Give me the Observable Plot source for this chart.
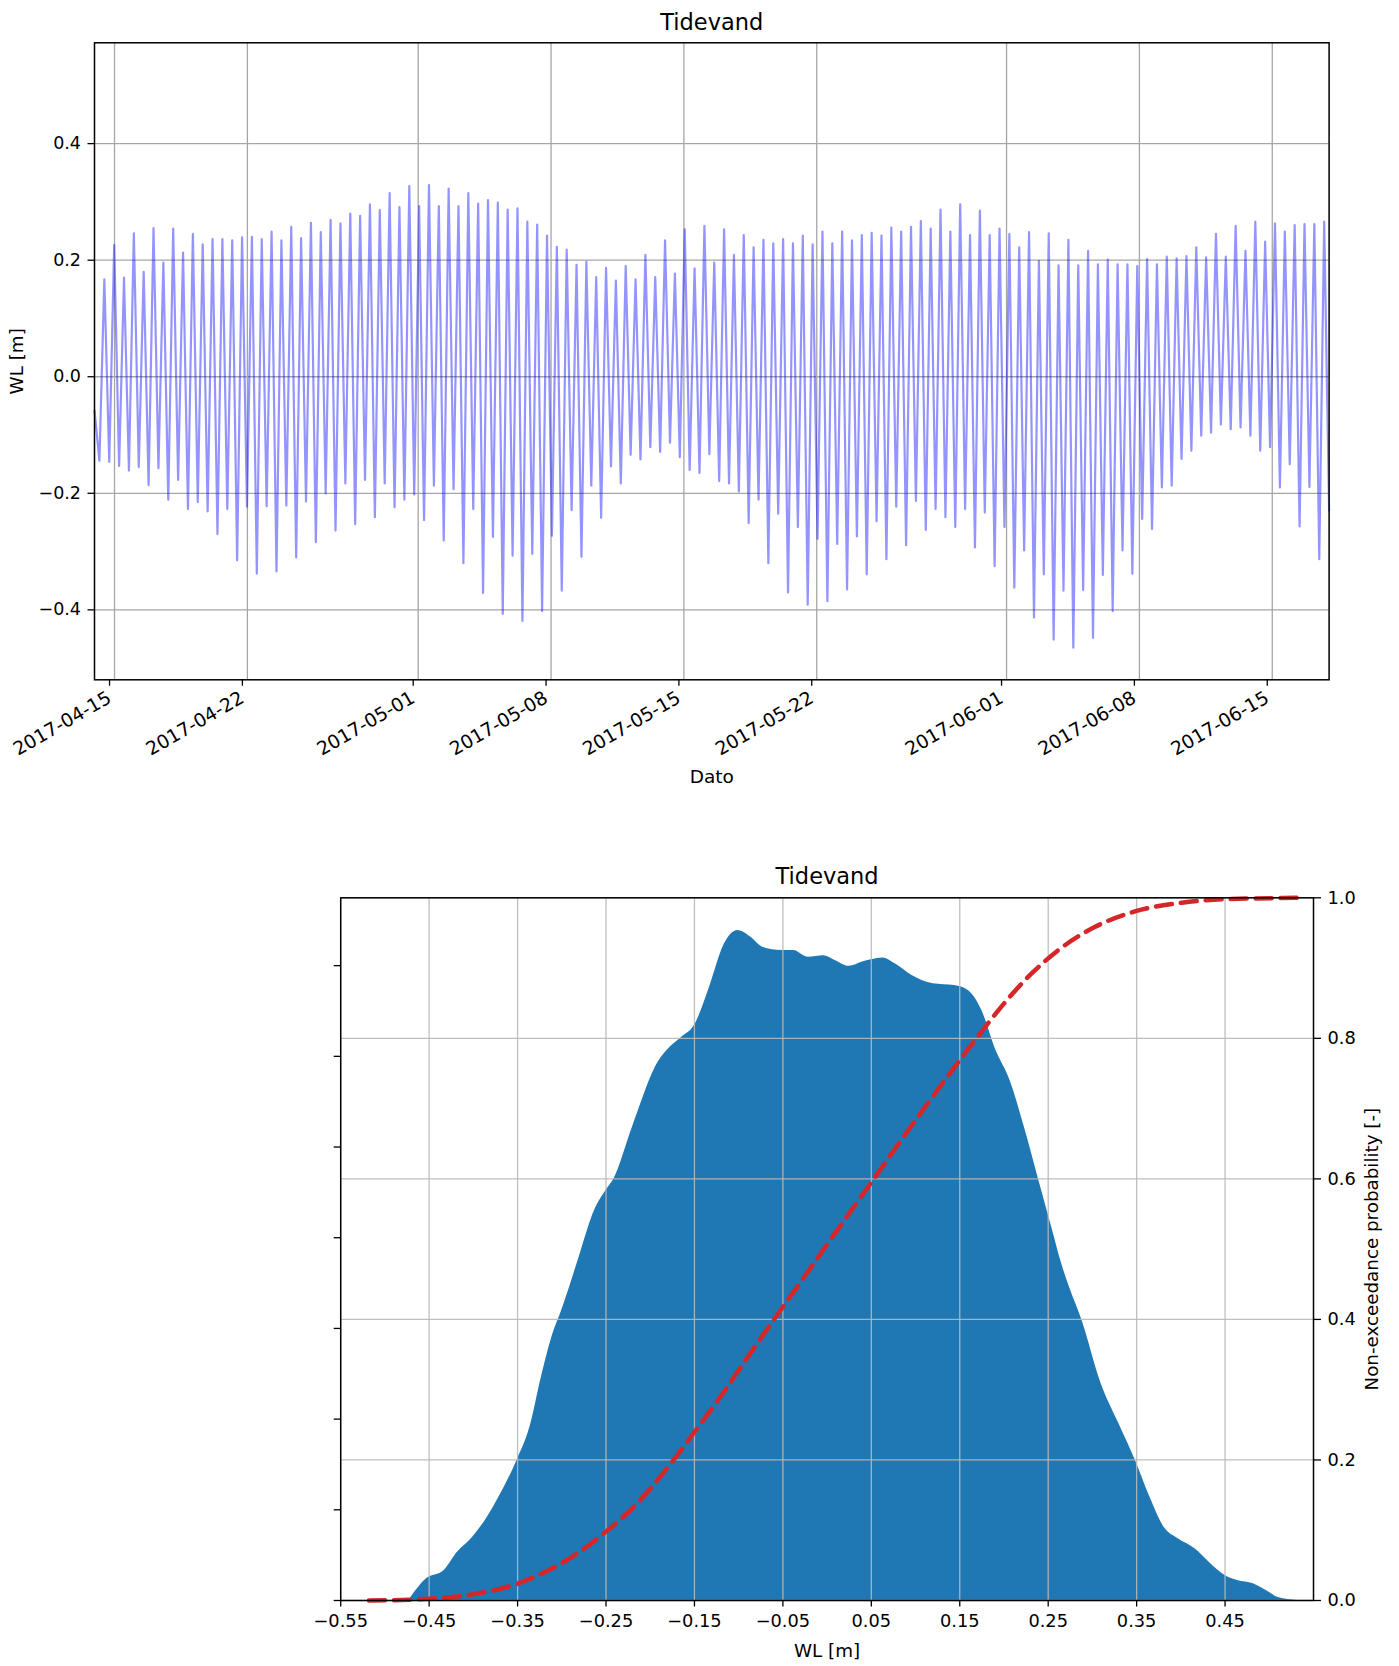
<!DOCTYPE html>
<html><head><meta charset="utf-8">
<script src="https://cdn.jsdelivr.net/npm/d3@7"></script>
<script src="https://cdn.jsdelivr.net/npm/@observablehq/plot@0.6"></script>
<style>
html,body{margin:0;padding:0;background:#fff;}
#wrap{position:relative;width:1399px;height:1666px;overflow:hidden;}
#wrap svg{position:absolute;left:0;max-width:none;}
</style></head><body><div id="wrap"></div>
<script>
// ---------- data: tide series (alternating low / high water levels, regular half-tide sampling) ----------
const seriesStart = "2017-04-13T22:40:00Z";
const stepHours = 6.22;
const wl = [
  -0.058,
  -0.144, 0.167, -0.146, 0.226, -0.153, 0.170, -0.161, 0.246, -0.155, 0.180,
  -0.186, 0.255, -0.157, 0.196, -0.211, 0.254, -0.177, 0.213, -0.227, 0.245,
  -0.215, 0.227, -0.231, 0.236, -0.270, 0.236, -0.227, 0.234, -0.315, 0.239,
  -0.223, 0.240, -0.338, 0.236, -0.222, 0.249, -0.334, 0.234, -0.221, 0.257,
  -0.310, 0.238, -0.214, 0.264, -0.284, 0.248, -0.200, 0.269, -0.264, 0.263,
  -0.183, 0.280, -0.253, 0.276, -0.177, 0.296, -0.241, 0.286, -0.183, 0.315,
  -0.224, 0.291, -0.211, 0.327, -0.202, 0.293, -0.246, 0.329, -0.187, 0.293,
  -0.281, 0.323, -0.193, 0.293, -0.320, 0.315, -0.227, 0.297, -0.371, 0.303,
  -0.275, 0.299, -0.407, 0.287, -0.307, 0.289, -0.419, 0.266, -0.304, 0.261,
  -0.402, 0.242, -0.273, 0.223, -0.367, 0.218, -0.229, 0.192, -0.309, 0.197,
  -0.187, 0.171, -0.242, 0.187, -0.154, 0.165, -0.183, 0.190, -0.134, 0.167,
  -0.142, 0.209, -0.121, 0.171, -0.129, 0.234, -0.113, 0.177, -0.138, 0.253,
  -0.160, 0.186,
  -0.165, 0.259, -0.133, 0.196, -0.179, 0.253, -0.183, 0.209, -0.197, 0.243,
  -0.251, 0.222, -0.211, 0.235, -0.320, 0.229, -0.235, 0.236, -0.370, 0.229,
  -0.258, 0.242, -0.391, 0.227, -0.278, 0.249, -0.385, 0.229, -0.287, 0.249,
  -0.365, 0.234, -0.274, 0.243, -0.339, 0.247, -0.248, 0.242, -0.313, 0.256,
  -0.223, 0.249, -0.289, 0.257, -0.213, 0.267, -0.263, 0.254, -0.227, 0.287,
  -0.241, 0.249, -0.258, 0.296, -0.227, 0.243, -0.293, 0.285, -0.233, 0.243,
  -0.325, 0.254, -0.258, 0.245, -0.362, 0.222, -0.298, 0.248, -0.413, 0.199,
  -0.339, 0.246, -0.451, 0.191, -0.367, 0.235, -0.465, 0.191, -0.366, 0.216,
  -0.448, 0.193, -0.340, 0.201, -0.402, 0.193, -0.298, 0.193, -0.338, 0.190,
  -0.244, 0.202, -0.261, 0.193, -0.190, 0.206, -0.187, 0.203, -0.141, 0.207,
  -0.127, 0.222, -0.101, 0.205, -0.096, 0.245, -0.082, 0.206, -0.090, 0.259,
  -0.087, 0.216, -0.101, 0.266, -0.127, 0.232, -0.121, 0.263, -0.190, 0.249,
  -0.150, 0.260, -0.257, 0.262, -0.189, 0.262, -0.313, 0.266,
  -0.230
];
const dateTicks = ["2017-04-15","2017-04-22","2017-05-01","2017-05-08","2017-05-15","2017-05-22","2017-06-01","2017-06-08","2017-06-15"];
const wlTicks = [-0.4, -0.2, 0.0, 0.2, 0.4];

// ---------- data: distribution (KDE density and non-exceedance probability) ----------
const kdeX = [-0.473,-0.453,-0.433,-0.418,-0.401,-0.384,-0.371,-0.351,-0.336,-0.323,-0.310,-0.300,-0.289,-0.278,-0.263,-0.250,-0.241,-0.220,-0.190,-0.181,-0.164,-0.150,-0.133,-0.116,-0.101,-0.086,-0.073,-0.051,-0.038,-0.021,-0.004,0.009,0.025,0.040,0.050,0.063,0.077,0.096,0.120,0.144,0.160,0.175,0.191,0.207,0.223,0.239,0.255,0.265,0.274,0.288,0.310,0.330,0.349,0.365,0.381,0.397,0.416,0.432,0.450,0.464,0.482,0.496,0.511,0.531];
const kdeDensity = [0,0.06,0.083,0.133,0.174,0.23,0.285,0.384,0.478,0.616,0.735,0.80,0.88,0.965,1.075,1.13,1.162,1.305,1.488,1.516,1.553,1.585,1.69,1.81,1.847,1.828,1.801,1.792,1.792,1.773,1.777,1.764,1.748,1.76,1.766,1.771,1.755,1.723,1.70,1.695,1.681,1.626,1.516,1.433,1.305,1.162,1.02,0.93,0.864,0.774,0.597,0.487,0.384,0.285,0.202,0.17,0.1425,0.1056,0.069,0.055,0.046,0.028,0.0074,0];
const cdfX = [-0.518,-0.473,-0.450,-0.410,-0.350,-0.315,-0.285,-0.250,-0.215,-0.181,-0.151,-0.120,-0.090,-0.056,-0.030,-0.006,0.025,0.050,0.078,0.120,0.150,0.175,0.199,0.231,0.262,0.302,0.349,0.401,0.450,0.539];
const cdfP = [0,0.001,0.0025,0.007,0.024,0.043,0.065,0.098,0.138,0.188,0.238,0.291,0.346,0.407,0.453,0.496,0.551,0.595,0.645,0.718,0.769,0.810,0.848,0.892,0.926,0.958,0.981,0.993,0.998,1.0];
const distTicks = [-0.55,-0.45,-0.35,-0.25,-0.15,-0.05,0.05,0.15,0.25,0.35,0.45];
const probTicks = [0.0,0.2,0.4,0.6,0.8,1.0];
const densTicks = [0,0.25,0.5,0.75,1.0,1.25,1.5,1.75];
const titleText = "Tidevand";

// ---------- build ----------
const FONT = "'DejaVu Sans', sans-serif";
const wrap = document.getElementById("wrap");
const t0 = new Date(seriesStart).getTime();
const tide = wl.map((v, i) => ({t: new Date(t0 + i * stepHours * 3600e3), v}));
const dateTickDates = dateTicks.map(s => new Date(s + "T00:00:00Z"));
const kde = kdeX.map((x, i) => ({x, d: kdeDensity[i]}));
const cdf = cdfX.map((x, i) => ({x, p: cdfP[i]}));

const topPlot = Plot.plot({
  width: 1399, height: 800,
  marginLeft: 94, marginRight: 70.4, marginTop: 42.3, marginBottom: 120.7,
  style: {fontFamily: FONT, fontSize: "17.5px", background: "transparent", color: "#000"},
  x: {type: "utc", domain: [tide[0].t, tide[tide.length - 1].t]},
  y: {domain: [-0.52, 0.573]},
  marks: [
    Plot.gridX(dateTickDates, {stroke: "#a6a6a6", strokeOpacity: 1, strokeWidth: 1.3}),
    Plot.gridY(wlTicks, {stroke: "#a6a6a6", strokeOpacity: 1, strokeWidth: 1.3}),
    Plot.line(tide, {x: "t", y: "v", stroke: "#0000ff", strokeOpacity: 0.42, strokeWidth: 2.2}),
    Plot.frame({stroke: "#000", strokeWidth: 1.5}),
    Plot.axisY(wlTicks, {tickSize: 6.5, tickPadding: 7, strokeWidth: 1.3, tickFormat: d3.format(".1f"), label: null}),
    Plot.axisX(dateTickDates, {tickSize: 6.5, tickPadding: 10, strokeWidth: 1.3, tickRotate: -30, textAnchor: "end", dx: -5, fontSize: 18.8, tickFormat: d3.utcFormat("%Y-%m-%d"), label: null}),
    Plot.text([titleText], {text: d => d, frameAnchor: "top", lineAnchor: "bottom", dy: -12.8, fontSize: 22.5}),
    Plot.text(["WL [m]"], {text: d => d, frameAnchor: "left", textAnchor: "middle", rotate: -90, dx: -77, fontSize: 18.3}),
    Plot.text(["Dato"], {text: d => d, frameAnchor: "bottom", lineAnchor: "bottom", dy: 102.7, fontSize: 18.5})
  ]
});
topPlot.style.top = "0px";
wrap.appendChild(topPlot);

const bottomMargins = {width: 1399, height: 866, marginLeft: 340.2, marginRight: 86, marginTop: 97.3, marginBottom: 66};

const densPlot = Plot.plot({
  ...bottomMargins,
  style: {fontFamily: FONT, fontSize: "17.8px", background: "transparent", color: "#000"},
  x: {domain: [-0.55, 0.55], axis: null},
  y: {domain: [0, 1.937]},
  marks: [
    Plot.areaY(kde, {x: "x", y: "d", fill: "#1f77b4", curve: "monotone-x"}),
    Plot.axisY(densTicks, {anchor: "left", tickSize: 6.5, strokeWidth: 1.3, tickFormat: () => "", label: null})
  ]
});
densPlot.style.top = "800px";
wrap.appendChild(densPlot);

const probPlot = Plot.plot({
  ...bottomMargins,
  style: {fontFamily: FONT, fontSize: "17.8px", background: "transparent", color: "#000"},
  x: {domain: [-0.55, 0.55]},
  y: {domain: [0, 1]},
  marks: [
    Plot.gridX(distTicks, {stroke: "#b8b8b8", strokeOpacity: 0.9, strokeWidth: 1.3}),
    Plot.gridY(probTicks, {stroke: "#b8b8b8", strokeOpacity: 0.9, strokeWidth: 1.3}),
    Plot.line(cdf, {x: "x", y: "p", stroke: "#d62728", strokeWidth: 4.5, strokeDasharray: "16,9", curve: "monotone-x"}),
    Plot.frame({stroke: "#000", strokeWidth: 1.5}),
    Plot.axisX(distTicks, {tickSize: 6.5, tickPadding: 7.5, strokeWidth: 1.3, tickFormat: d3.format(".2f"), label: null}),
    Plot.axisY(probTicks, {anchor: "right", tickSize: 7, tickPadding: 7, strokeWidth: 1.3, tickFormat: d3.format(".1f"), label: null}),
    Plot.text([titleText], {text: d => d, frameAnchor: "top", lineAnchor: "bottom", dy: -14.3, fontSize: 22.5}),
    Plot.text(["WL [m]"], {text: d => d, frameAnchor: "bottom", lineAnchor: "bottom", dy: 56, fontSize: 18.3}),
    Plot.text(["Non-exceedance probability [-]"], {text: d => d, frameAnchor: "right", textAnchor: "middle", rotate: -90, dx: 59, fontSize: 18.3})
  ]
});
probPlot.style.top = "800px";
wrap.appendChild(probPlot);
</script>
</body></html>
